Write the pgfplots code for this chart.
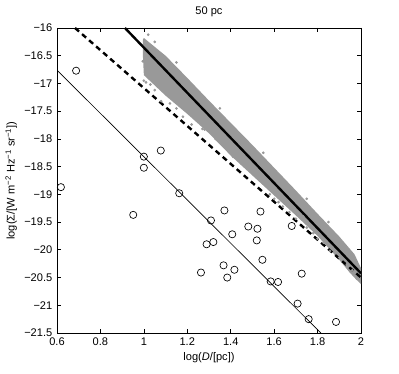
\documentclass[border=0pt]{standalone}
\usepackage{pgfplots}
\pgfplotsset{compat=1.18}
\usepackage{fontspec}
\setmainfont{Liberation Sans}
\definecolor{band}{gray}{0.6}
\begin{document}
\begin{tikzpicture}
\begin{axis}[
  width=228pt, height=228.75pt, scale only axis,
  xmin=0.6, xmax=2, ymin=-21.5, ymax=-16,
  xtick={0.6,0.8,1,1.2,1.4,1.6,1.8,2},
  xticklabels={0.6,0.8,1,1.2,1.4,1.6,1.8,2},
  ytick={-21.5,-21,-20.5,-20,-19.5,-19,-18.5,-18,-17.5,-17,-16.5,-16},
  yticklabels={−21.5,−21,−20.5,−20,−19.5,−19,−18.5,−18,−17.5,−17,−16.5,−16},
  tick align=inside, major tick length=3pt,
  axis line style={line width=0.6pt}, every tick/.style={black, line width=0.5pt},
  tick label style={font=\fontsize{8.3}{10}\selectfont},
  label style={font=\fontsize{8.3}{10}\selectfont},
  xlabel={log(\textit{D}/[pc])},
  xlabel style={at={(axis description cs:0.5,-0.082)}, anchor=center},
  ylabel={log(Σ/[W m\textsuperscript{−2} Hz\textsuperscript{−1} sr\textsuperscript{−1}])},
  ylabel style={at={(axis description cs:-0.151,0.5)}, anchor=center},
]
% dense band of model points
\addplot[fill=band, draw=none] coordinates {
  (0.995,-16.22) (1.0,-16.18) (1.1,-16.50) (1.2,-16.90) (1.3,-17.31) (1.4,-17.71)
  (1.5,-18.11) (1.6,-18.52) (1.7,-18.93) (1.8,-19.35) (1.9,-19.76) (1.97,-20.08) (2.0,-20.33)
  (2.0,-20.62) (1.95,-20.42) (1.9,-20.18) (1.8,-19.75) (1.7,-19.38) (1.6,-19.02)
  (1.5,-18.66) (1.4,-18.30) (1.3,-17.90) (1.2,-17.55) (1.1,-17.22) (1.0,-16.85) (0.995,-16.45)
} -- cycle;
% scattered model points outside the band
\addplot[only marks, mark=*, mark size=0.8pt, band] coordinates {
  (0.995,-16.6) (1.0,-16.95) (1.01,-16.98) (1.03,-17.02) (1.05,-17.12) (1.08,-17.32)
  (1.12,-17.36) (1.15,-17.45) (1.18,-17.6) (1.22,-17.74) (1.27,-17.82) (1.28,-17.83)
  (1.29,-17.82) (1.33,-18.0) (1.41,-18.32) (1.45,-18.45) (1.58,-19.0) (1.6,-19.08)
  (1.62,-19.14) (1.64,-19.22) (1.67,-19.32) (1.7,-19.44) (1.734,-19.4) (1.75,-19.6)
  (1.78,-19.7) (1.8,-19.8) (1.827,-19.87) (1.857,-20.02) (1.9,-20.14) (1.935,-20.26)
  (1.96,-20.37) (1.98,-20.52)
  (1.02,-16.12) (1.05,-16.25) (1.15,-16.62) (1.35,-17.45) (1.55,-18.25) (1.75,-19.08) (1.85,-19.5)
};
% fits
\addplot[black, line width=1.8pt, dash pattern=on 4pt off 3pt] coordinates {(0.683,-16) (2,-20.50)};
\addplot[black, line width=1.8pt] coordinates {(0.913,-16) (2,-20.424)};
\addplot[black, line width=0.5pt] coordinates {(0.6,-16.76) (1.815,-21.5)};
% observed clumps
\addplot[only marks, mark=o, mark size=2.7pt, black, line width=0.5pt] coordinates {
  (0.618,-18.87) (0.688,-16.77) (0.951,-19.37) (1.000,-18.32) (1.000,-18.52)
  (1.078,-18.21) (1.163,-18.98) (1.263,-20.41) (1.289,-19.90) (1.309,-19.47)
  (1.320,-19.86) (1.367,-20.28) (1.371,-19.29) (1.384,-20.50) (1.407,-19.72)
  (1.417,-20.36) (1.481,-19.58) (1.520,-19.83) (1.523,-19.62) (1.537,-19.31)
  (1.546,-20.18) (1.584,-20.57) (1.618,-20.58) (1.681,-19.57) (1.708,-20.97)
  (1.727,-20.43) (1.759,-21.25) (1.885,-21.30)
};
\coordinate (bl) at (rel axis cs:0,0);
\coordinate (tr) at (rel axis cs:1,1);
\coordinate (tt) at (rel axis cs:0.5,1);
\end{axis}
\node[font=\fontsize{8.3}{10}\selectfont, anchor=center] at ([yshift=12pt]tt) {50 pc};
\pgfresetboundingbox
\useasboundingbox ([shift={(-42.75pt,-30.75pt)}]bl) rectangle ([shift={(28.5pt,21pt)}]tr);
\end{tikzpicture}
\end{document}
